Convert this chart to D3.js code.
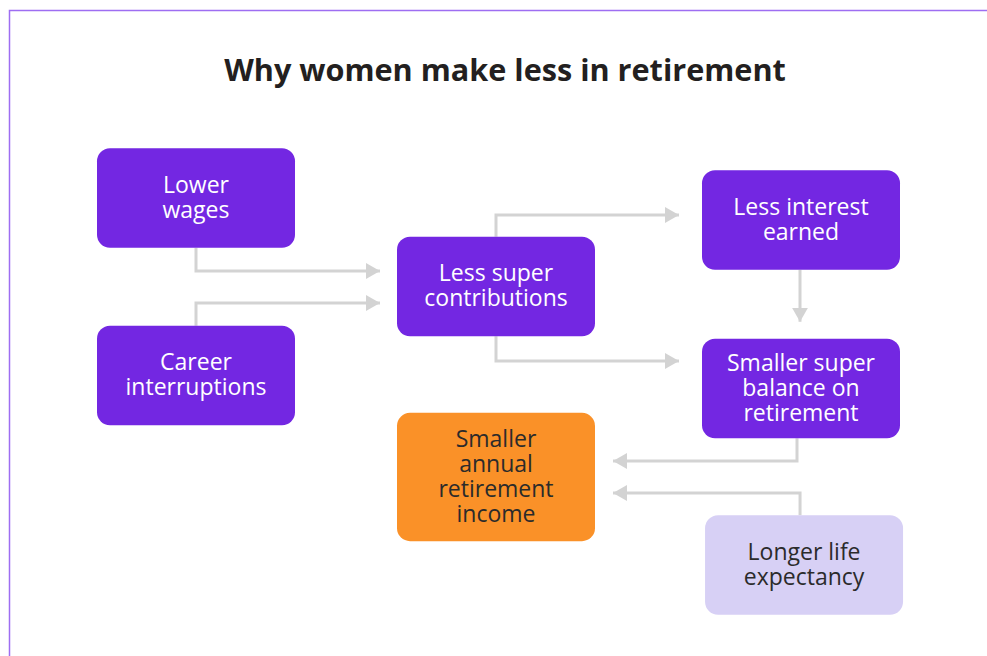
<!DOCTYPE html>
<html>

<head>
  <meta charset="utf-8">
  <script src="https://cdn.jsdelivr.net/npm/d3@7"></script>
  <style>
    body {
      margin: 0;
      background: #ffffff;
    }

    .box-text {
      font-family: "Open Sans", Lato, sans-serif;
      font-size: 23px;
    }

    .title {
      font-family: "Open Sans", Lato, sans-serif;
      font-weight: 700;
      font-size: 30px;
      fill: #231f20;
    }
  </style>
</head>

<body>
  <div id="chart"></div>

  <script>
    // chart data
    var title = 'Why women make less in retirement'
    var nodeIds = ['wages', 'career', 'contrib', 'interest', 'balance', 'income', 'life']
    var nodeLabels = [
      ['Lower', 'wages'],
      ['Career', 'interruptions'],
      ['Less super', 'contributions'],
      ['Less interest', 'earned'],
      ['Smaller super', 'balance on', 'retirement'],
      ['Smaller', 'annual', 'retirement', 'income'],
      ['Longer life', 'expectancy']
    ]
    var nodeKind = ['cause', 'cause', 'cause', 'cause', 'cause', 'result', 'other']
    // layout grid: column and row (row units), box height in row units
    var nodeCol = [0, 0, 1, 2, 2, 1, 2.01]
    var nodeRow = [1.98, 3.755, 2.865, 2.20, 3.885, 4.77, 5.65]
    var nodeSpan = [1, 1, 1, 1, 1, 1.29, 1]
    // links: source, target, elbow row
    var linkSource = ['wages', 'career', 'contrib', 'contrib', 'interest', 'balance', 'life']
    var linkTarget = ['contrib', 'contrib', 'interest', 'balance', 'balance', 'income', 'income']
    var linkElbow = [2.71, 3.03, 2.15, 3.61, null, 4.61, 4.93]

    var colours = { cause: '#7327e2', result: '#fa9128', other: '#d7d0f5' }
    var textColours = { cause: '#ffffff', result: '#2b2b2b', other: '#2b2b2b' }

    var width = 987, height = 656
    var boxW = 198, boxH = 99.5, gap = 17

    var x = d3.scaleLinear().domain([0, 1, 2]).range([196, 496, 801])
    var y = d3.scaleLinear().domain([0, 1]).range([0, 100])

    var svg = d3.select('#chart')
      .append('svg')
      .attr('width', width)
      .attr('height', height)

    // frame
    svg.append('rect')
      .attr('x', 9.5)
      .attr('y', 10.5)
      .attr('width', 1100)
      .attr('height', 800)
      .attr('fill', 'none')
      .attr('stroke', '#9e6ef2')
      .attr('stroke-width', 1.5)

    var titleText = svg.append('text')
      .attr('class', 'title')
      .attr('x', 505)
      .attr('y', 81)
      .attr('text-anchor', 'middle')
      .text(title)
    // fit title to reference width
    var tw = titleText.node().getComputedTextLength()
    titleText.style('font-size', (30 * 562 / tw) + 'px')

    svg.append('defs')
      .append('marker')
      .attr('id', 'arrow')
      .attr('viewBox', '0 0 14 16')
      .attr('refX', 14)
      .attr('refY', 8)
      .attr('markerWidth', 14)
      .attr('markerHeight', 16)
      .attr('markerUnits', 'userSpaceOnUse')
      .attr('orient', 'auto')
      .append('path')
      .attr('d', 'M0,0 L14,8 L0,16 Z')
      .attr('fill', '#d3d3d3')

    var nodes = nodeIds.map(function (id, i) {
      var h = boxH * nodeSpan[i]
      return {
        id: id, lines: nodeLabels[i], kind: nodeKind[i],
        cx: x(nodeCol[i]), cy: y(nodeRow[i]), w: boxW, h: h
      }
    })
    var byId = {}
    nodes.forEach(function (n) { byId[n.id] = n })

    // connectors
    var links = linkSource.map(function (s, i) {
      return { s: byId[s], t: byId[linkTarget[i]], elbow: linkElbow[i] }
    })

    svg.append('g')
      .selectAll('path')
      .data(links)
      .join('path')
      .attr('fill', 'none')
      .attr('stroke', '#d3d3d3')
      .attr('stroke-width', 3)
      .attr('marker-end', 'url(#arrow)')
      .attr('d', function (d) {
        var s = d.s, t = d.t
        if (d.elbow === null) {
          // straight down
          var sx = s.cx - 1
          return 'M' + sx + ',' + (s.cy + s.h / 2) + ' V' + (t.cy - t.h / 2 - gap)
        }
        var ey = y(d.elbow)
        var goingRight = t.cx > s.cx
        var sx2 = goingRight ? s.cx : s.cx - 4
        var sy = ey > s.cy ? s.cy + s.h / 2 : s.cy - s.h / 2
        var tx = goingRight ? t.cx - t.w / 2 - (t.cx > 700 ? 23 : gap) : t.cx + t.w / 2 + 18
        return 'M' + sx2 + ',' + sy + ' V' + ey + ' H' + tx
      })

    // boxes
    var box = svg.append('g')
      .selectAll('g')
      .data(nodes)
      .join('g')
      .attr('transform', function (d) { return 'translate(' + d.cx + ',' + d.cy + ')' })

    box.append('rect')
      .attr('x', function (d) { return -d.w / 2 })
      .attr('y', function (d) { return -d.h / 2 })
      .attr('width', function (d) { return d.w })
      .attr('height', function (d) { return d.h })
      .attr('rx', 13)
      .attr('fill', function (d) { return colours[d.kind] })

    var lineH = 25
    box.append('text')
      .attr('class', 'box-text')
      .attr('text-anchor', 'middle')
      .attr('fill', function (d) { return textColours[d.kind] })
      .selectAll('tspan')
      .data(function (d) {
        return d.lines.map(function (l, i) {
          return { text: l, dy: (i - (d.lines.length - 1) / 2) * lineH }
        })
      })
      .join('tspan')
      .attr('x', 0)
      .attr('y', function (d) { return d.dy + 7 })
      .text(function (d) { return d.text })
  </script>

</body>

</html>
